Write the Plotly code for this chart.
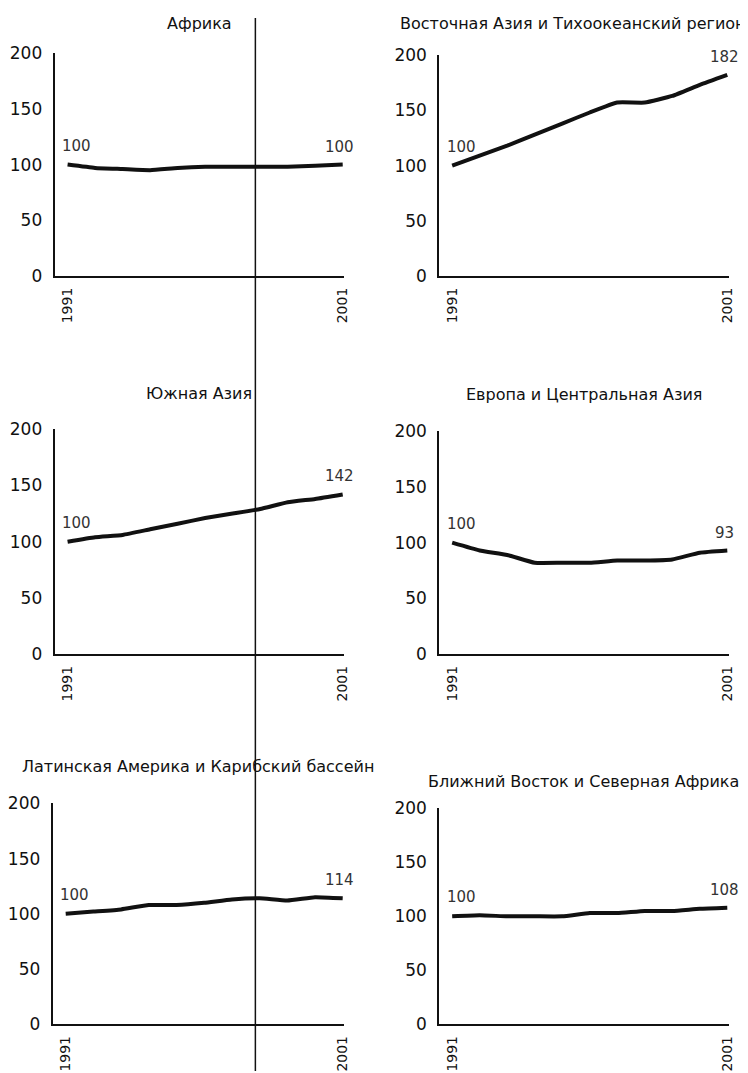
import plotly.graph_objects as go

# --- data (index, 1991 = 100) ---
YEARS = [1991, 1992, 1993, 1994, 1995, 1996, 1997, 1998, 1999, 2000, 2001]
YEAR_TICKS = [1991, 2001]
Y_TICKS = [0, 50, 100, 150, 200]

AFRICA = [100, 97, 96, 95, 97, 98, 98, 98, 98, 99, 100]
EAST_ASIA = [100, 109, 118, 128, 138, 148, 157, 157, 163, 173, 182]
SOUTH_ASIA = [100, 104, 106, 111, 116, 121, 125, 129, 135, 138, 142]
EUROPE_CA = [100, 93, 89, 82, 82, 82, 84, 84, 85, 91, 93]
LATAM = [100, 102, 104, 108, 108, 110, 113, 114, 112, 115, 114]
MENA = [100, 101, 100, 100, 100, 103, 103, 105, 105, 107, 108]

TITLES = [
    "Африка",
    "Восточная Азия и Тихоокеанский регион",
    "Южная Азия",
    "Европа и Центральная Азия",
    "Латинская Америка и Карибский бассейн",
    "Ближний Восток и Северная Африка",
]
SERIES = [AFRICA, EAST_ASIA, SOUTH_ASIA, EUROPE_CA, LATAM, MENA]

# --- target screen pixels: (left, top, right, bottom) of each plot area, title centre y ---
W, H = 748, 1073
BOXES = [
    (47, 52, 339, 275),
    (435, 54, 727, 275),
    (47, 428, 339, 653),
    (435, 430, 727, 653),
    (45, 802, 339, 1023),
    (435, 807, 727, 1023),
]
TITLE_Y = [22, 22, 392, 393, 765, 780]

# page offset / scale seen in the rendered screenshot
OX, OY, SX, SY = 8, 17, 0.99, 0.981

FONT = "DejaVu Sans"
INK = "#111111"


def fx(p):
    return (p - OX) / SX / W


def fy(p):
    return 1 - (p - OY) / SY / H


fig = go.Figure()
layout = {}
annotations = []

for i, (title, vals, box, ty) in enumerate(zip(TITLES, SERIES, BOXES, TITLE_Y)):
    n = "" if i == 0 else str(i + 1)
    left, top, right, bottom = box
    fig.add_trace(go.Scatter(
        x=YEARS, y=vals, mode="lines",
        line=dict(color=INK, width=4, shape="spline", smoothing=0.4),
        xaxis="x" + n, yaxis="y" + n, showlegend=False, hoverinfo="skip",
    ))
    layout["xaxis" + n] = dict(
        domain=[fx(left), fx(right)], anchor="y" + n,
        range=[1990.53, 2001.05], tickvals=YEAR_TICKS, tickangle=-90,
        showgrid=False, zeroline=False, showline=True, linecolor=INK, linewidth=2,
        ticks="", ticklabelstandoff=4,
        tickfont=dict(family=FONT, size=14, color=INK),
    )
    layout["yaxis" + n] = dict(
        domain=[fy(bottom), fy(top)], anchor="x" + n,
        range=[0, 200], tickvals=Y_TICKS,
        showgrid=False, zeroline=False, showline=True, linecolor=INK, linewidth=2,
        ticks="", ticklabelstandoff=7,
        tickfont=dict(family=FONT, size=17, color=INK),
    )
    # the east-asia title runs to the right edge of the page, as in the original
    if i == 1:
        tx, anchor = fx(747), "right"
    else:
        tx, anchor = (fx(left) + fx(right)) / 2, "center"
    annotations.append(dict(
        text=title, xref="paper", yref="paper", x=tx, y=fy(ty),
        xanchor=anchor, yanchor="middle", showarrow=False,
        font=dict(family=FONT, size=16, color=INK),
    ))
    # start and end value labels
    annotations.append(dict(
        text=str(vals[0]), xref="x" + n, yref="y" + n, x=YEARS[0], y=vals[0],
        xshift=9, yshift=19, showarrow=False,
        font=dict(family=FONT, size=15, color="#333333"),
    ))
    annotations.append(dict(
        text=str(vals[-1]), xref="x" + n, yref="y" + n, x=YEARS[-1], y=vals[-1],
        xshift=-3, yshift=18, showarrow=False,
        font=dict(family=FONT, size=15, color="#333333"),
    ))

fig.update_layout(
    **layout,
    annotations=annotations,
    width=W, height=H,
    margin=dict(l=0, r=0, t=0, b=0),
    paper_bgcolor="white", plot_bgcolor="white",
    # scan fold line running down the page
    shapes=[dict(type="line", xref="paper", yref="paper",
                 x0=fx(249.5), x1=fx(249.5), y0=0, y1=1,
                 line=dict(color=INK, width=1.5))],
)

fig.write_html("out.html")
